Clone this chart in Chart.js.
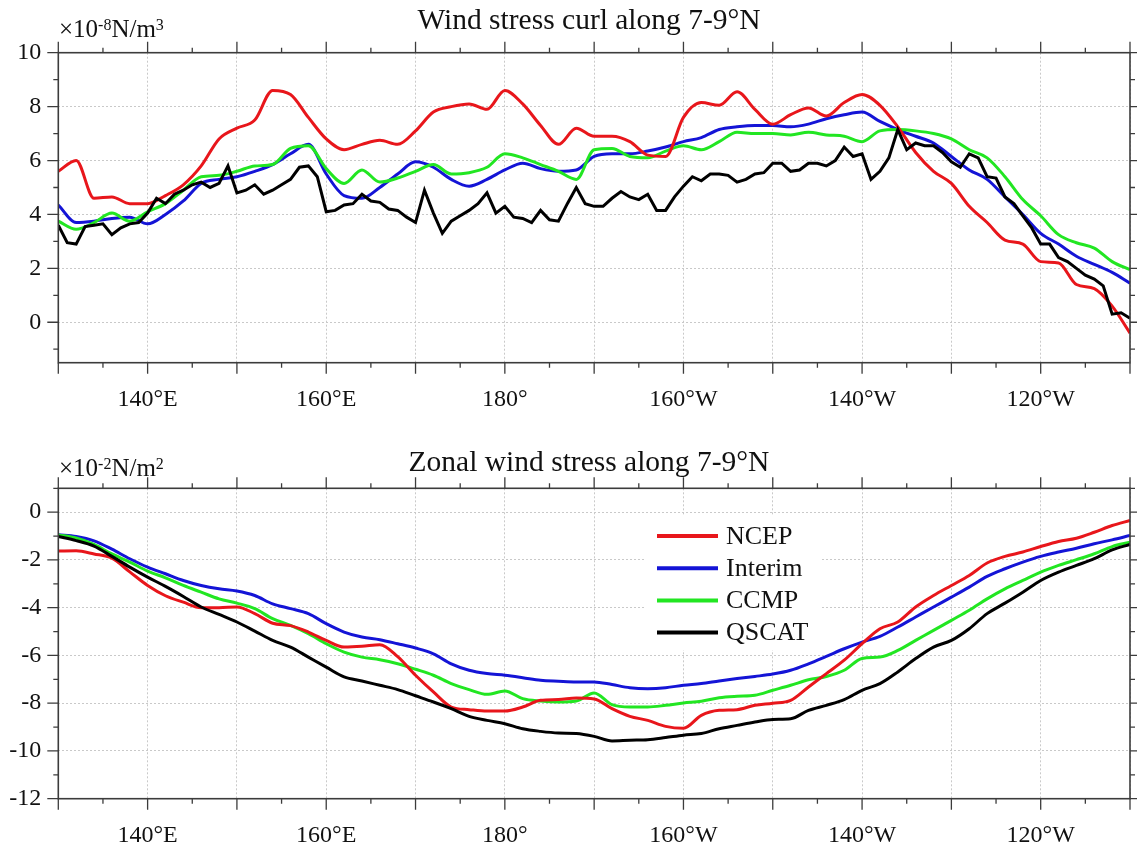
<!DOCTYPE html>
<html><head><meta charset="utf-8">
<script src="https://cdn.jsdelivr.net/npm/chart.js@4.4.1/dist/chart.umd.min.js"></script>
<style>
html,body{margin:0;padding:0;background:#fff;}
#wrap{position:relative;width:1137px;height:842px;overflow:hidden;}
canvas{position:absolute;left:0;}
#c1{top:0}
#c2{top:421px}
</style></head><body>
<div id="wrap"><canvas id="c1" width="1137" height="421"></canvas><canvas id="c2" width="1137" height="421"></canvas></div>
<script>
// ---------- DATA ----------
const lon2 = [130,132,134,136,138,140,142,144,146,148,150,152,154,156,158,160,162,164,166,168,170,172,174,176,178,180,182,184,186,188,190,192,194,196,198,200,202,204,206,208,210,212,214,216,218,220,222,224,226,228,230,232,234,236,238,240,242,244,246,248,250];
const lon1 = [130,131,132,133,134,135,136,137,138,139,140,141,142,143,144,145,146,147,148,149,150,151,152,153,154,155,156,157,158,159,160,161,162,163,164,165,166,167,168,169,170,171,172,173,174,175,176,177,178,179,180,181,182,183,184,185,186,187,188,189,190,191,192,193,194,195,196,197,198,199,200,201,202,203,204,205,206,207,208,209,210,211,212,213,214,215,216,217,218,219,220,221,222,223,224,225,226,227,228,229,230,231,232,233,234,235,236,237,238,239,240,241,242,243,244,245,246,247,248,249,250];

// Wind stress curl (x1e-8 N/m^3)
const ncepCurl = [5.6,6.0,4.6,4.65,4.4,4.4,4.7,5.1,5.8,6.8,
  7.2,7.5,8.6,8.45,7.6,6.8,6.4,6.6,6.75,6.6,
  7.1,7.8,8.0,8.1,7.9,8.6,8.1,7.3,6.6,7.2,
  6.9,6.9,6.7,6.2,6.15,7.6,8.15,8.05,8.55,7.9,
  7.35,7.7,7.95,7.65,8.15,8.45,8.05,7.25,6.3,5.6,
  5.15,4.3,3.7,3.05,2.9,2.25,2.2,1.4,1.25,0.6,
  -0.4];
const interimCurl = [4.35,3.7,3.75,3.85,3.9,3.65,4.0,4.5,5.15,5.3,
  5.4,5.6,5.85,6.25,6.6,5.5,4.7,4.6,5.0,5.5,
  5.95,5.75,5.3,5.05,5.3,5.65,5.9,5.7,5.6,5.65,
  6.15,6.25,6.25,6.35,6.5,6.7,6.85,7.15,7.25,7.3,
  7.3,7.25,7.35,7.55,7.7,7.8,7.45,7.15,6.9,6.65,
  6.15,5.65,5.3,4.65,4.0,3.3,2.9,2.45,2.15,1.85,
  1.45];
const ccmpCurl = [3.75,3.45,3.7,4.05,3.75,4.1,4.4,4.9,5.4,5.45,
  5.6,5.8,5.85,6.45,6.55,5.7,5.15,5.65,5.2,5.35,
  5.6,5.85,5.5,5.55,5.75,6.25,6.1,5.85,5.6,5.3,
  6.4,6.45,6.15,6.1,6.35,6.55,6.4,6.7,7.05,7.0,
  7.0,6.95,7.05,6.95,6.9,6.7,7.1,7.15,7.1,7.0,
  6.8,6.4,6.1,5.4,4.55,3.95,3.25,2.95,2.75,2.25,
  1.95];
const qscatCurl = [3.6,2.95,2.9,3.55,3.6,3.65,3.25,3.5,3.65,3.7,
  4.05,4.6,4.4,4.75,4.9,5.1,5.2,5.0,5.15,5.8,
  4.8,4.9,5.1,4.75,4.9,5.1,5.3,5.75,5.8,5.4,
  4.1,4.15,4.35,4.4,4.75,4.5,4.45,4.2,4.15,3.9,
  3.7,4.9,4.05,3.3,3.75,3.95,4.15,4.4,4.8,4.05,
  4.3,3.9,3.85,3.7,4.15,3.8,3.75,4.4,5.0,4.4,
  4.3,4.3,4.6,4.85,4.65,4.55,4.75,4.15,4.15,4.65,
  5.05,5.4,5.25,5.5,5.5,5.45,5.2,5.3,5.5,5.55,
  5.9,5.9,5.6,5.65,5.9,5.9,5.8,6.0,6.5,6.15,
  6.25,5.3,5.6,6.1,7.15,6.4,6.65,6.55,6.55,6.3,
  5.95,5.75,6.25,6.1,5.4,5.35,4.65,4.4,3.95,3.5,
  2.9,2.9,2.4,2.25,2.0,1.75,1.6,1.35,0.3,0.35,
  0.15];

// Zonal wind stress (x1e-2 N/m^2)
const ncepTaux = [-1.63,-1.62,-1.75,-1.93,-2.5,-3.07,-3.5,-3.77,-4.0,-4.0,
  -3.97,-4.25,-4.65,-4.75,-5.02,-5.37,-5.65,-5.62,-5.55,-6.05,
  -6.83,-7.53,-8.16,-8.27,-8.33,-8.33,-8.16,-7.88,-7.85,-7.78,
  -7.82,-8.23,-8.55,-8.72,-8.97,-9.05,-8.51,-8.3,-8.27,-8.09,
  -8.0,-7.88,-7.32,-6.76,-6.2,-5.51,-4.88,-4.6,-3.97,-3.49,
  -3.07,-2.65,-2.13,-1.85,-1.67,-1.44,-1.23,-1.09,-0.84,-0.56,
  -0.35];
const interimTaux = [-0.95,-1.02,-1.2,-1.55,-1.95,-2.3,-2.58,-2.86,-3.07,-3.21,
  -3.3,-3.49,-3.84,-4.04,-4.25,-4.67,-5.02,-5.23,-5.34,-5.51,
  -5.69,-5.93,-6.35,-6.62,-6.76,-6.83,-6.93,-7.04,-7.08,-7.11,
  -7.11,-7.22,-7.35,-7.39,-7.35,-7.25,-7.18,-7.07,-6.97,-6.88,
  -6.78,-6.62,-6.35,-6.04,-5.72,-5.44,-5.2,-4.81,-4.39,-3.97,
  -3.56,-3.14,-2.69,-2.37,-2.09,-1.85,-1.67,-1.51,-1.32,-1.16,
  -0.98];
const ccmpTaux = [-0.95,-1.08,-1.35,-1.75,-2.09,-2.47,-2.75,-3.07,-3.35,-3.63,
  -3.81,-4.04,-4.46,-4.74,-5.09,-5.51,-5.86,-6.07,-6.18,-6.35,
  -6.58,-6.83,-7.18,-7.43,-7.63,-7.49,-7.81,-7.91,-7.95,-7.91,
  -7.57,-8.06,-8.16,-8.16,-8.09,-7.99,-7.92,-7.77,-7.71,-7.67,
  -7.46,-7.25,-7.02,-6.88,-6.62,-6.13,-6.07,-5.79,-5.37,-4.95,
  -4.53,-4.11,-3.63,-3.21,-2.86,-2.51,-2.23,-1.99,-1.74,-1.44,
  -1.26];
const qscatTaux = [-1.02,-1.19,-1.42,-1.85,-2.3,-2.72,-3.11,-3.53,-3.97,-4.28,
  -4.6,-4.98,-5.37,-5.65,-6.07,-6.49,-6.9,-7.07,-7.25,-7.43,
  -7.69,-7.95,-8.23,-8.55,-8.72,-8.86,-9.07,-9.18,-9.25,-9.27,
  -9.39,-9.58,-9.55,-9.53,-9.44,-9.34,-9.27,-9.07,-8.93,-8.79,
  -8.68,-8.65,-8.3,-8.09,-7.85,-7.46,-7.18,-6.69,-6.13,-5.65,
  -5.37,-4.88,-4.25,-3.81,-3.35,-2.86,-2.51,-2.23,-1.95,-1.58,
  -1.35];

const seriesNames = ['NCEP','Interim','CCMP','QSCAT'];
const seriesColors = ['#e8161b','#1414d6','#22e622','#000000'];

const xTickValues = [130,140,150,160,170,180,190,200,210,220,230,240,250];
const xTickLabels = ['','140°E','','160°E','','180°','','160°W','','140°W','','120°W',''];
const xMinorTicks = [135,145,155,165,175,185,195,205,215,225,235,245];
const curlTicks = [0,2,4,6,8,10];
const curlMinor = [-1,1,3,5,7,9];
const tauxTicks = [-12,-10,-8,-6,-4,-2,0];
const tauxMinor = [-11,-9,-7,-5,-3,-1,1];

// ---------- HELPERS ----------
const FONT = '"Liberation Serif", "Times New Roman", serif';

function framePlugin(yMajor, yMinor) {
  return {
    id: 'frame',
    afterDraw(chart) {
      const {ctx, chartArea: a, scales: {x, y}} = chart;
      ctx.save();
      ctx.strokeStyle = '#3c3c3c';
      ctx.lineWidth = 1.3;
      ctx.beginPath();
      const xt = xTickValues.map(v => [v, 11]).concat(xMinorTicks.map(v => [v, 5]));
      xt.forEach(([v, len]) => {
        const px = x.getPixelForValue(v);
        ctx.moveTo(px, a.bottom); ctx.lineTo(px, a.bottom + len);
        ctx.moveTo(px, a.top); ctx.lineTo(px, a.top - len);
      });
      const yt = yMajor.map(v => [v, 11]).concat(yMinor.map(v => [v, 5]));
      yt.forEach(([v, len]) => {
        const py = y.getPixelForValue(v);
        ctx.moveTo(a.left, py); ctx.lineTo(a.left - len, py);
        ctx.moveTo(a.right, py); ctx.lineTo(a.right + len, py);
      });
      ctx.stroke();
      ctx.lineWidth = 1.6;
      ctx.strokeRect(a.left, a.top, a.right - a.left, a.bottom - a.top);
      ctx.restore();
    }
  };
}

function textPlugin(t) {
  return {
    id: 'panelText',
    afterDraw(chart) {
      const ctx = chart.ctx;
      ctx.save();
      ctx.fillStyle = '#111';
      ctx.textBaseline = 'alphabetic';
      ctx.font = '29.5px ' + FONT;
      ctx.textAlign = 'center';
      ctx.fillText(t.title, t.titleX, t.titleY);
      ctx.textAlign = 'left';
      let x = t.unitX;
      t.unit.forEach(([s, sup]) => {
        ctx.font = (sup ? '16px ' : '25px ') + FONT;
        ctx.fillText(s, x, t.unitY - (sup ? 7 : 0));
        x += ctx.measureText(s).width;
      });
      ctx.restore();
    }
  };
}

const legendPlugin = {
  id: 'insideLegend',
  afterDatasetsDraw(chart) {
    const ctx = chart.ctx;
    ctx.save();
    ctx.fillStyle = '#fff';
    ctx.fillRect(646, 95, 174, 134);
    ctx.font = '26px ' + FONT;
    ctx.textBaseline = 'middle';
    ctx.textAlign = 'left';
    seriesNames.forEach((name, i) => {
      const yy = 115 + i * 32.2;
      ctx.strokeStyle = seriesColors[i];
      ctx.lineWidth = 4;
      ctx.beginPath(); ctx.moveTo(657, yy); ctx.lineTo(718, yy); ctx.stroke();
      ctx.fillStyle = '#111';
      ctx.fillText(name, 726, yy + 1);
    });
    ctx.restore();
  }
};

function ds(i, xs, ys, smooth) {
  return {
    label: seriesNames[i],
    data: xs.map((x, k) => ({x, y: ys[k]})),
    borderColor: seriesColors[i],
    backgroundColor: seriesColors[i],
    borderWidth: 3,
    pointRadius: 0,
    fill: false,
    cubicInterpolationMode: smooth ? 'monotone' : 'default',
    tension: smooth ? 0.4 : 0,
    order: [1, 3, 2, 0][i]
  };
}

function makeChart(id, datasets, yMin, yMax, yMajor, yMinor, geom, plugins) {
  return new Chart(document.getElementById(id), {
    type: 'line',
    data: {datasets},
    options: {
      responsive: false,
      animation: false,
      devicePixelRatio: 1,
      events: [],
      layout: {padding: {left: 0, right: 7, top: geom.top, bottom: 0}},
      plugins: {legend: {display: false}, tooltip: {enabled: false}, title: {display: false}},
      scales: {
        x: {
          type: 'linear', min: 130, max: 250,
          afterBuildTicks: s => { s.ticks = xTickValues.map(v => ({value: v})); },
          afterFit: s => { s.height = geom.xh; s.paddingLeft = 0; s.paddingRight = 0; },
          ticks: {
            autoSkip: false, maxRotation: 0, minRotation: 0, padding: 23,
            color: '#111', font: {family: FONT, size: 24},
            callback: v => { const k = xTickValues.indexOf(v); return k >= 0 ? xTickLabels[k] : ''; }
          },
          grid: {color: '#c9c9c9', lineWidth: 1, drawTicks: false},
          border: {display: false, dash: [2, 2]}
        },
        y: {
          type: 'linear', min: yMin, max: yMax,
          afterBuildTicks: s => { s.ticks = yMajor.map(v => ({value: v})); },
          afterFit: s => { s.width = 58.3; s.paddingTop = 0; s.paddingBottom = 0; },
          ticks: {
            autoSkip: false, padding: 17, color: '#111', font: {family: FONT, size: 24},
            callback: v => String(v)
          },
          grid: {color: '#c9c9c9', lineWidth: 1, drawTicks: false},
          border: {display: false, dash: [2, 2]}
        }
      }
    },
    plugins: plugins
  });
}

// ---------- CHARTS ----------
makeChart('c1', [
    ds(0, lon2, ncepCurl, true),
    ds(1, lon2, interimCurl, true),
    ds(2, lon2, ccmpCurl, true),
    ds(3, lon1, qscatCurl, false)
  ], -1.5, 10, curlTicks, curlMinor, {top: 52.7, xh: 58.3},
  [framePlugin(curlTicks, curlMinor),
   textPlugin({title: 'Wind stress curl along 7-9°N', titleX: 589, titleY: 29,
     unit: [['×10', false], ['-8', true], ['N/m', false], ['3', true]], unitX: 59, unitY: 37})]);

makeChart('c2', [
    ds(0, lon2, ncepTaux, true),
    ds(1, lon2, interimTaux, true),
    ds(2, lon2, ccmpTaux, true),
    ds(3, lon2, qscatTaux, true)
  ], -12, 1, tauxTicks, tauxMinor, {top: 67.3, xh: 43.3},
  [legendPlugin, framePlugin(tauxTicks, tauxMinor),
   textPlugin({title: 'Zonal wind stress along 7-9°N', titleX: 589, titleY: 50,
     unit: [['×10', false], ['-2', true], ['N/m', false], ['2', true]], unitX: 59, unitY: 55})]);
</script></body></html>
